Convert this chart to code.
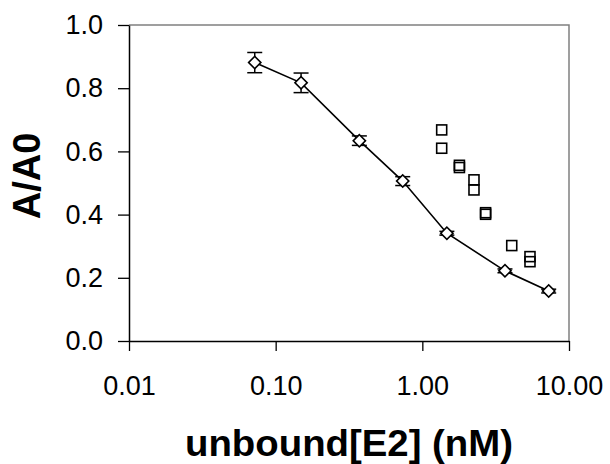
<!DOCTYPE html>
<html>
<head>
<meta charset="utf-8">
<script src="https://cdn.jsdelivr.net/npm/d3@7"></script>
<style>
	body { margin: 0; background: #fff; }
	#chart { width: 610px; height: 464px; }
	text { font-family: "Liberation Sans", Arial, sans-serif; fill: #000; }
</style>
</head>
<body>
<div id="chart"></div>
<script>
// diamond series (with fitted line + error bars)
let diamondX = [0.072, 0.149, 0.372, 0.735, 1.47, 3.66, 7.27];
let diamondY = [0.881, 0.817, 0.634, 0.506, 0.341, 0.222, 0.158];
let diamondErr = [0.032, 0.031, 0.015, 0.014, 0.006, 0.006, 0.006];

// square series
let squareX = [1.355, 1.355, 1.79, 1.79, 2.25, 2.25, 2.7, 2.7, 4.07, 5.42, 5.42];
let squareY = [0.668, 0.61, 0.556, 0.549, 0.51, 0.478, 0.406, 0.401, 0.302, 0.267, 0.251];

let xTicks = [0.01, 0.1, 1, 10];
let yTicks = [0, 0.2, 0.4, 0.6, 0.8, 1.0];
let xTitle = "unbound[E2] (nM)";
let yTitle = "A/A0";

let margin = { top: 25, right: 41, bottom: 123, left: 129 };
let width = 610;
let height = 464;
let size = {
	width: width - margin.left - margin.right,
	height: height - margin.top - margin.bottom,
};

let svg = d3
	.select("#chart")
	.append("svg")
	.attr("width", width)
	.attr("height", height);

let xScale = d3
	.scaleLog()
	.domain([0.01, 10])
	.range([margin.left, margin.left + size.width]);

let yScale = d3
	.scaleLinear()
	.domain([0, 1])
	.range([margin.top + size.height, margin.top]);

// gray frame on top / right
svg
	.append("path")
	.attr("d", `M${xScale(0.01)},${yScale(1)}H${xScale(10)}V${yScale(0)}`)
	.attr("fill", "none")
	.attr("stroke", "#808080")
	.attr("stroke-width", 1.5);

let xAxis = d3
	.axisBottom(xScale)
	.tickValues(xTicks)
	.tickSizeInner(10)
	.tickSizeOuter(0)
	.tickPadding(25)
	.tickFormat(d3.format(".2f"));

let yAxis = d3
	.axisLeft(yScale)
	.tickValues(yTicks)
	.tickSizeInner(11)
	.tickSizeOuter(0)
	.tickPadding(15)
	.tickFormat(d3.format(".1f"));

let styleAxis = (g) => {
	g.selectAll("line").attr("stroke", "#000").attr("stroke-width", 1.3);
	g.select(".domain").attr("stroke", "#000").attr("stroke-width", 1.5);
	g.selectAll("text")
		.attr("font-size", "27px")
		.attr("font-family", "Liberation Sans, Arial, sans-serif");
};

svg
	.append("g")
	.attr("transform", `translate(0, ${yScale(0)})`)
	.call(xAxis)
	.call(styleAxis);

svg
	.append("g")
	.attr("transform", `translate(${xScale(0.01)}, 0)`)
	.call(yAxis)
	.call(styleAxis);

// axis titles
svg
	.append("text")
	.attr("x", 349)
	.attr("y", 456)
	.attr("text-anchor", "middle")
	.attr("font-size", "36px")
	.attr("font-weight", "bold")
	.attr("textLength", 328)
	.attr("lengthAdjust", "spacingAndGlyphs")
	.text(xTitle);

svg
	.append("text")
	.attr("transform", "translate(40, 176) rotate(-90)")
	.attr("text-anchor", "middle")
	.attr("font-size", "38px")
	.attr("font-weight", "bold")
	.text(yTitle);

let diamondData = diamondX.map((x, i) => ({ x, y: diamondY[i], e: diamondErr[i] }));
let squareData = squareX.map((x, i) => ({ x, y: squareY[i] }));

let lineGenerator = d3
	.line()
	.x((d) => xScale(d.x))
	.y((d) => yScale(d.y));

svg
	.append("path")
	.attr("d", lineGenerator(diamondData))
	.attr("fill", "none")
	.attr("stroke", "#000")
	.attr("stroke-width", 1.6);

// error bars
let errG = svg
	.append("g")
	.attr("stroke", "#000")
	.attr("stroke-width", 1.5);
diamondData.forEach((d) => {
	let cx = xScale(d.x);
	let y0 = yScale(d.y + d.e);
	let y1 = yScale(d.y - d.e);
	errG.append("line").attr("x1", cx).attr("x2", cx).attr("y1", y0).attr("y2", y1);
	errG.append("line").attr("x1", cx - 7.5).attr("x2", cx + 7.5).attr("y1", y0).attr("y2", y0);
	errG.append("line").attr("x1", cx - 7.5).attr("x2", cx + 7.5).attr("y1", y1).attr("y2", y1);
});

svg
	.append("g")
	.selectAll("path")
	.data(diamondData)
	.join("path")
	.attr("transform", (d) => `translate(${xScale(d.x)}, ${yScale(d.y)}) rotate(45)`)
	.attr("d", d3.symbol().type(d3.symbolSquare).size(75))
	.attr("fill", "#fff")
	.attr("stroke", "#000")
	.attr("stroke-width", 1.6);

svg
	.append("g")
	.selectAll("rect")
	.data(squareData)
	.join("rect")
	.attr("x", (d) => xScale(d.x) - 5)
	.attr("y", (d) => yScale(d.y) - 5)
	.attr("width", 10)
	.attr("height", 10)
	.attr("fill", "none")
	.attr("stroke", "#000")
	.attr("stroke-width", 1.6);
</script>
</body>
</html>
